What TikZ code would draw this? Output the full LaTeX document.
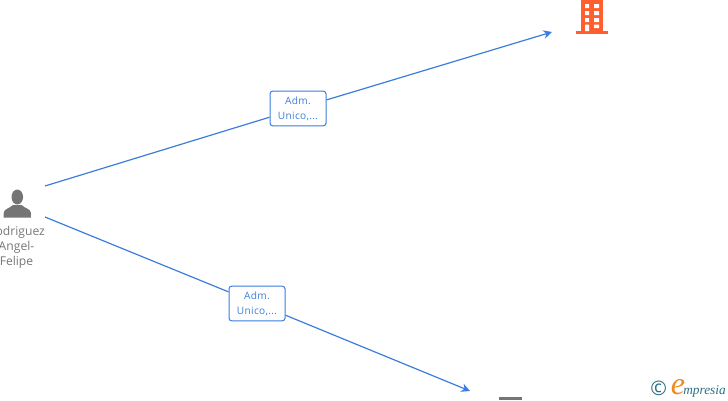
\documentclass[tikz,border=0pt]{standalone}
\usepackage{fontspec}
\setmainfont{Open Sans}
\newfontfamily\logofont{Liberation Serif}
\newfontfamily\spacedfont[LetterSpace=3]{Open Sans}
\usetikzlibrary{arrows.meta}
\definecolor{linkblue}{HTML}{3B7DDD}
\definecolor{boxtext}{HTML}{3D7FD9}
\definecolor{icongrey}{HTML}{757575}
\definecolor{labelgrey}{HTML}{777777}
\definecolor{bldorange}{HTML}{FF5E2E}
\definecolor{logoteal}{HTML}{2A6F84}
\definecolor{logoorange}{HTML}{F08A1D}
\tikzset{
  link/.style={draw=linkblue,line width=0.9pt},
  linkarrow/.style={link,-{Stealth[length=6.5pt,width=6.5pt]}},
  rolebox/.style={draw=linkblue,line width=0.75pt,rounded corners=2pt,fill=white,
    minimum width=42pt,minimum height=26pt,inner sep=0pt,align=center,
    text=boxtext,font=\spacedfont\fontsize{7.6}{11}\selectfont},
  personname/.style={text=labelgrey,align=center,inner sep=0pt,font=\fontsize{9.1}{11.3}\selectfont},
}
\begin{document}
\begin{tikzpicture}[x=0.75pt,y=-0.75pt]
\useasboundingbox (0,0) rectangle (728,400);
\clip (0,0) rectangle (728,400);
% person icon
\fill[icongrey] (17.3,197) ellipse [x radius=5.8,y radius=7.5];
\fill[icongrey] (3.5,217.5) -- (3.8,212.5) .. controls (4.2,209) and (9,208.5) .. (13,205)
  -- (21.5,205) .. controls (25.5,208.5) and (30.4,209) .. (30.8,212.5) -- (31,217.5) -- cycle;
\node[personname] (person) at (16.5,247.5) {Rodriguez\\Angel-\\Felipe};
% building icon
\fill[bldorange] (581,0) rectangle (603,31);
\fill[bldorange] (576,31) rectangle (608,34);
\fill[white] (585,4) rectangle (589,8) (594,4) rectangle (599,8)
  (585,11) rectangle (589,15) (594,11) rectangle (599,15)
  (585,18) rectangle (589,22) (594,18) rectangle (599,22)
  (585,24.5) rectangle (589,31) (594,24.5) rectangle (599,28);
% clipped grey icon at the bottom
\fill[icongrey] (499,397) rectangle (522,400);
% connector ends
\coordinate (startA) at (45,186);
\coordinate (startB) at (45,217);
\coordinate (endA) at (552,32);
\coordinate (endB) at (470,391);
% role boxes
\node[rolebox] (roleA) at (298,108.5) {Adm.\\Unico,...};
\node[rolebox] (roleB) at (257,303.5) {Adm.\\Unico,...};
% connectors
\draw[link] (startA) -- (roleA);
\draw[linkarrow] (roleA) -- (endA);
\draw[link] (startB) -- (roleB);
\draw[linkarrow] (roleB) -- (endB);
% logo
\node[inner sep=0pt,anchor=base west,text=logoteal,font=\fontsize{15}{16}\selectfont] (logoC) at (650,395) {©};
\node[inner sep=0pt,anchor=base west,text=logoorange,font=\logofont\itshape\fontsize{24}{24}\selectfont] (logoE) at (670.5,394.5) {e};
\node[inner sep=0pt,anchor=base west,text=logoteal,font=\logofont\itshape\fontsize{10}{12}\selectfont] (logoT) at (683,394.5) {mpresia};
\end{tikzpicture}
\end{document}
